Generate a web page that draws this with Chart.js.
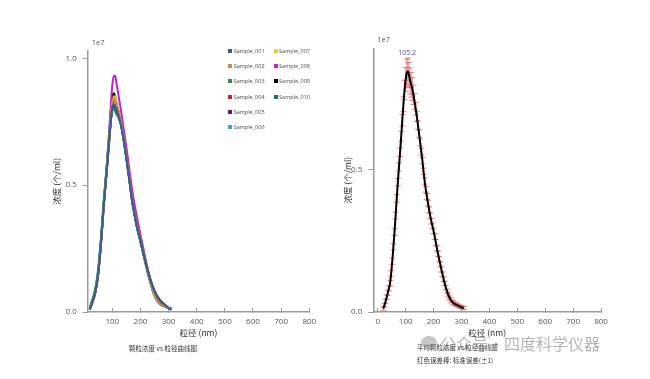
<!DOCTYPE html>
<html><head><meta charset="utf-8">
<script src="https://cdn.jsdelivr.net/npm/chart.js@4.4.1/dist/chart.umd.min.js"></script>
<style>
html,body{margin:0;padding:0;background:#fff;}
#page{position:relative;width:650px;height:379px;overflow:hidden;background:#fff;}
canvas{position:absolute;top:0;}
#c1{left:0;}
#c2{left:325px;}
.lg{position:absolute;height:6px;font:5.5px "Open Sans",sans-serif;color:#4a4a4a;white-space:nowrap;line-height:6px;}
.lg i{position:absolute;width:4px;height:4px;left:0;top:1px;}
.lg span{position:absolute;left:5.4px;top:0;}
.cap{position:absolute;font:6.5px "Noto Sans CJK SC",sans-serif;color:#333;white-space:nowrap;line-height:8px;}
#wm{position:absolute;left:440px;top:333px;font:16px "Noto Sans CJK SC",sans-serif;color:rgba(120,120,120,0.55);white-space:nowrap;line-height:20px;}
#wmi{position:absolute;left:421px;top:336px;width:16px;height:13px;border-radius:50%;background:rgba(130,130,130,0.45);}
</style></head>
<body>
<div id="page">
<canvas id="c1" width="325" height="379"></canvas>
<canvas id="c2" width="325" height="379"></canvas>
<div id="legend"></div>
<div class="cap" style="left:163px;top:348px;transform:translate(-50%,-50%);">颗粒浓度 vs 粒径曲线图</div>
<div class="cap" style="left:417px;top:343px;">平均颗粒浓度 vs 粒径曲线图</div>
<div class="cap" style="left:417px;top:356px;">红色误差棒: 标准误差(±1)</div>
<div id="wmi"></div>
<div id="wm">公众号·四度科学仪器</div>
</div>
<script>
// ---------- data (concentration in units of 1e7 particles/ml) ----------
const sizeGrid = [20,30,40,50,60,70,80,90,95,100,105,110,115,120,130,140,150,160,170,180,190,200,210,220,230,240,250,260,270,280,290,300,310];
const sampleNames = ["Sample_001","Sample_002","Sample_003","Sample_004","Sample_005","Sample_006","Sample_007","Sample_008","Sample_009","Sample_010"];
const sampleColors = ["#2f5f95","#cf8a45","#2e8b4e","#c0282d","#5b1d78","#3aa8ad","#e0d42a","#c41fcf","#000000","#216b6b"];
const sample001 = [.010,.042,.080,.152,.275,.425,.552,.690,.755,.805,.818,.812,.790,.778,.740,.680,.605,.525,.442,.378,.325,.282,.236,.190,.148,.112,.082,.062,.046,.035,.025,.015,.008];
const sample002 = [.012,.044,.082,.155,.278,.428,.560,.702,.770,.822,.845,.830,.795,.782,.752,.688,.612,.532,.447,.383,.328,.285,.238,.188,.142,.100,.066,.044,.031,.025,.020,.016,.012];
const sample003 = [.015,.050,.090,.165,.290,.438,.565,.700,.760,.798,.800,.790,.780,.775,.748,.684,.608,.528,.443,.379,.325,.282,.232,.182,.138,.098,.065,.044,.031,.025,.020,.016,.012];
const sample004 = [.011,.043,.081,.153,.276,.426,.556,.694,.760,.808,.828,.830,.808,.790,.752,.688,.612,.532,.446,.382,.329,.288,.240,.190,.144,.103,.069,.046,.033,.026,.021,.017,.013];
const sample005 = [.010,.041,.079,.150,.272,.422,.552,.690,.756,.805,.815,.808,.790,.776,.742,.682,.608,.528,.444,.380,.326,.283,.237,.191,.150,.114,.084,.063,.047,.036,.026,.016,.009];
const sample006 = [.018,.055,.098,.175,.300,.450,.575,.708,.770,.800,.802,.792,.778,.770,.740,.680,.604,.524,.440,.376,.322,.280,.230,.180,.136,.096,.064,.043,.030,.024,.019,.015,.011];
const sample007 = [.012,.044,.082,.154,.278,.428,.558,.700,.768,.820,.848,.850,.820,.800,.756,.690,.614,.534,.448,.384,.330,.287,.239,.189,.143,.101,.067,.045,.032,.026,.021,.017,.013];
const sample008 = [.010,.040,.078,.150,.275,.432,.575,.735,.820,.895,.928,.932,.900,.868,.800,.725,.650,.568,.485,.418,.360,.306,.252,.198,.150,.106,.070,.046,.032,.025,.020,.016,.012];
const sample009 = [.012,.045,.084,.158,.283,.435,.568,.715,.790,.845,.862,.850,.820,.800,.752,.686,.610,.530,.444,.378,.322,.276,.230,.184,.140,.100,.068,.046,.033,.027,.021,.017,.013];
const sample010 = [.013,.047,.086,.160,.284,.432,.560,.695,.758,.802,.810,.800,.785,.774,.744,.682,.606,.526,.442,.378,.324,.281,.233,.185,.141,.101,.068,.046,.033,.026,.020,.016,.012];

const meanSizes = [20,24,28,32,36,40,44,48,52,56,60,64,68,72,76,80,84,88,92,96,100,104,108,112,116,120,124,128,132,136,140,144,148,152,156,160,164,168,172,176,180,184,188,192,196,200,204,208,212,216,220,224,228,232,236,240,244,248,252,256,260,264,268,272,276,280,284,288,292,296,300,304,308];
const meanConc = [.012,.024,.037,.052,.067,.083,.100,.135,.178,.228,
  .280,.338,.398,.455,.508,.560,.616,.672,.728,.778,
  .815,.838,.843,.830,.810,.796,.781,.761,.738,.712,
  .685,.655,.625,.594,.562,.530,.493,.459,.430,.405,
  .381,.358,.337,.318,.301,.284,.265,.244,.223,.204,
  .185,.167,.149,.132,.115,.100,.086,.073,.062,.053,
  .045,.039,.034,.031,.028,.026,.024,.022,.020,.018,
  .017,.015,.014];
const meanErr = [.006,.007,.008,.008,.009,.009,.010,.010,.011,.011,
  .012,.012,.013,.013,.014,.015,.017,.020,.026,.034,
  .042,.048,.047,.044,.046,.043,.040,.034,.028,.022,
  .018,.015,.013,.012,.012,.011,.011,.011,.010,.010,
  .010,.010,.010,.010,.010,.010,.010,.010,.009,.009,
  .009,.009,.009,.008,.008,.008,.008,.007,.007,.007,
  .006,.006,.006,.006,.005,.005,.005,.005,.005,.005,
  .005,.005,.005];
const peakSize = 105.2;

const leftXTicks = [100,200,300,400,500,600,700,800];
const rightXTicks = [0,100,200,300,400,500,600,700,800];
const leftYTicks = [0,0.5,1.0];
const rightYTicks = [0,0.5];
const yExponent = "1e7";
const xTitle = "粒径 (nm)";
const yTitle = "浓度 (个/ml)";

// ---------- helpers ----------
const samples = [sample001,sample002,sample003,sample004,sample005,sample006,sample007,sample008,sample009,sample010];
const AX = '#9a9a9a';
const tickFont = {family:'"Open Sans", sans-serif', size:8};
const titleFont = {family:'"Noto Sans CJK SC", sans-serif', size:8.5};

function expPlugin(){
  return {id:'exp', afterDraw(chart){
    const {ctx, chartArea} = chart;
    ctx.save();
    ctx.fillStyle = '#555';
    ctx.font = '7.5px "Open Sans", sans-serif';
    ctx.textBaseline = 'middle';
    ctx.textAlign = 'left';
    ctx.fillText(yExponent, chartArea.left + 4, chartArea.top - 8);
    ctx.restore();
  }};
}

function scalesFor(o){
  return {
    x:{type:'linear', min:o.xmin, max:800,
      afterBuildTicks:s=>{s.ticks = o.xticks.map(v=>({value:v}));},
      afterFit:s=>{s.height = 26.3;},
      border:{display:true,color:AX,width:1.5},
      grid:{display:true,drawOnChartArea:false,drawTicks:true,tickLength:-4,color:AX,lineWidth:1},
      ticks:{font:tickFont,color:'#555',padding:8.9,maxRotation:0,autoSkip:false,callback:v=>String(v)},
      title:{display:true,text:xTitle,font:titleFont,color:'#333',padding:0}
    },
    y:{type:'linear', min:0, max:o.ymax,
      afterBuildTicks:s=>{s.ticks = o.yticks.map(v=>({value:v}));},
      afterFit:s=>{s.width = o.yw;},
      border:{display:true,color:AX,width:1.5},
      grid:{display:true,drawOnChartArea:false,drawTicks:true,tickLength:5,color:AX,lineWidth:1},
      ticks:{font:tickFont,color:'#555',padding:6,autoSkip:false,callback:v=>Number(v).toFixed(1)},
      title:{display:true,text:yTitle,font:titleFont,color:'#333',padding:0}
    }
  };
}

// ---------- left chart ----------
new Chart(document.getElementById('c1'),{
  type:'line',
  data:{datasets: samples.map((arr,k)=>({
    label: sampleNames[k],
    data: arr.map((v,i)=>({x:sizeGrid[i], y:v})),
    borderColor: sampleColors[k],
    backgroundColor: sampleColors[k],
    borderWidth: 2,
    pointRadius: 0,
    cubicInterpolationMode:'monotone',
    fill:false
  }))},
  options:{
    responsive:false, animation:false,
    layout:{padding:{left:51.9,top:50.7,right:12.3,bottom:40.7}},
    plugins:{legend:{display:false},tooltip:{enabled:false}},
    scales: scalesFor({xmin:12.5, xticks:leftXTicks, ymax:1.03, yticks:leftYTicks, yw:35.8})
  },
  plugins:[expPlugin()]
});

// HTML legend (column-major, 6 rows)
(function(){
  const lg = document.getElementById('legend');
  const colX = [228.3, 273.7];
  const rowY = [51, 66.2, 81.4, 96.6, 111.8, 127];
  sampleNames.forEach((n,k)=>{
    const c = Math.floor(k/6), r = k%6;
    const d = document.createElement('div');
    d.className='lg';
    d.style.left = colX[c]+'px';
    d.style.top = (rowY[r]-3)+'px';
    d.innerHTML = '<i style="background:'+sampleColors[k]+'"></i><span>'+n+'</span>';
    lg.appendChild(d);
  });
})();

// ---------- right chart ----------
const errPlugin = {id:'err', beforeDatasetsDraw(chart){
  const {ctx, scales:{x,y}} = chart;
  ctx.save();
  ctx.strokeStyle = 'rgba(226,92,92,0.75)';
  ctx.lineWidth = 1;
  for(let i=0;i<meanSizes.length;i++){
    const px = x.getPixelForValue(meanSizes[i]);
    const y1 = y.getPixelForValue(meanConc[i]-meanErr[i]);
    const y2 = y.getPixelForValue(meanConc[i]+meanErr[i]);
    ctx.beginPath();
    ctx.moveTo(px,y1); ctx.lineTo(px,y2);
    ctx.moveTo(px-3,y1); ctx.lineTo(px+3,y1);
    ctx.moveTo(px-3,y2); ctx.lineTo(px+3,y2);
    ctx.stroke();
  }
  ctx.restore();
}};
const peakPlugin = {id:'peak', afterDatasetsDraw(chart){
  const {ctx, scales:{x,y}} = chart;
  let im = 0;
  meanConc.forEach((v,i)=>{ if(v>meanConc[im]) im=i; });
  const px = x.getPixelForValue(peakSize);
  const py = y.getPixelForValue(meanConc[im]+meanErr[im]);
  ctx.save();
  ctx.fillStyle = '#4a4ac4';
  ctx.font = '7px "Open Sans", sans-serif';
  ctx.textAlign = 'center';
  ctx.textBaseline = 'bottom';
  ctx.fillText(peakSize.toFixed(1), px, py - 1.5);
  ctx.restore();
}};

new Chart(document.getElementById('c2'),{
  type:'line',
  data:{datasets:[{
    label:'mean',
    data: meanConc.map((v,i)=>({x:meanSizes[i], y:v})),
    borderColor:'#000', backgroundColor:'#000',
    borderWidth:2, pointRadius:0, tension:0.3, fill:false
  }]},
  options:{
    responsive:false, animation:false,
    layout:{padding:{left:17.9,top:48.3,right:49,bottom:40.7}},
    plugins:{legend:{display:false},tooltip:{enabled:false}},
    scales: scalesFor({xmin:-16, xticks:rightXTicks, ymax:0.924, yticks:rightYTicks, yw:30.4})
  },
  plugins:[errPlugin, peakPlugin, expPlugin()]
});
</script>
</body></html>
